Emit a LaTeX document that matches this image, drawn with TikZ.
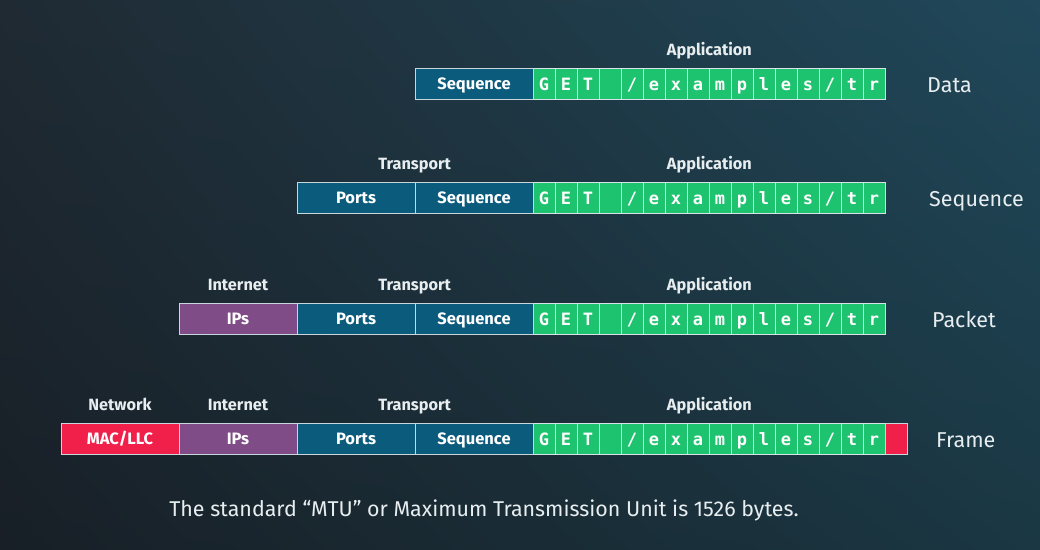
\documentclass[tikz,border=0pt]{standalone}
\usepackage{fontspec}
\setmainfont{Fira Sans}
\newfontfamily\bytefont{DejaVu Sans Mono}
\usepackage{xcolor}
\usepackage{tikz}
\usetikzlibrary{positioning, shadings}
\definecolor{bgtl}{HTML}{1F2A33}
\definecolor{bgtr}{HTML}{20485A}
\definecolor{bgbl}{HTML}{181F26}
\definecolor{bgbr}{HTML}{1A3743}
\definecolor{seqblue}{HTML}{0B5B7D}
\definecolor{appgreen}{HTML}{1DC36F}
\definecolor{ippurple}{HTML}{7F4C88}
\definecolor{macred}{HTML}{F0204B}
\definecolor{edgegray}{HTML}{C9D6DC}
\definecolor{lbltext}{HTML}{E8EEF0}
\tikzset{
  hdrbox/.style={draw=edgegray,line width=0.8pt,minimum width=118pt,minimum height=31pt,
    inner sep=0pt,text=white,text height=10.5pt,text depth=0pt,
    font=\bfseries\fontsize{16.5}{17}\selectfont},
  seqbox/.style={hdrbox,fill=seqblue},
  ipbox/.style={hdrbox,fill=ippurple},
  macbox/.style={hdrbox,fill=macred},
  endbox/.style={hdrbox,fill=macred,minimum width=22pt},
  bytecell/.style={draw=edgegray!70!white,line width=0.8pt,fill=appgreen,minimum width=22pt,
    minimum height=31pt,inner sep=0pt,text=white,text height=12pt,text depth=0pt,
    font=\bytefont\bfseries\fontsize{17}{17}\selectfont},
  layerlbl/.style={text=lbltext,inner sep=0pt,text depth=0pt,font=\bfseries\fontsize{16.3}{17}\selectfont},
  rowlbl/.style={anchor=base west,inner sep=0pt,text=lbltext,font=\fontsize{21.5}{22}\selectfont},
  notetext/.style={anchor=base,inner sep=0pt,text=lbltext,font=\fontsize{21.4}{23}\selectfont},
}

\begin{document}
\begin{tikzpicture}[x=1pt,y=-1pt]
  \shade[upper left=bgtl,upper right=bgtr,lower left=bgbl,lower right=bgbr] (0,0) rectangle (1040,549);
  \useasboundingbox (0,0) rectangle (1040,549);
  % application bytes, one strip per layer
  \foreach \row/\y in {d/84,s/198,p/319,f/439}{
    \foreach \ch [count=\i] in {G,E,T,{},{/},e,x,a,m,p,l,e,s,{/},t,r}
      \node[bytecell] (\row\i) at ({522+22*\i},\y) {\ch};
    \node[layerlbl,above=12.5pt of \row8.north east] (\row app) {Application};
  }
  % data
  \node[seqbox] (dseq) at (474,84) {Sequence};
  % segment
  \node[seqbox] (sports) at (356,198) {Ports};
  \node[seqbox] (sseq) at (474,198) {Sequence};
  \node[layerlbl,above=12.5pt of sseq.north west] (stra) {Transport};
  % packet
  \node[ipbox] (pips) at (238,319) {IPs};
  \node[seqbox] (pports) at (356,319) {Ports};
  \node[seqbox] (pseq) at (474,319) {Sequence};
  \node[layerlbl,above=12.5pt of pips.north] (pint) {Internet};
  \node[layerlbl,above=12.5pt of pseq.north west] (ptra) {Transport};
  % frame
  \node[macbox] (fmac) at (120,439) {MAC/LLC};
  \node[ipbox] (fips) at (238,439) {IPs};
  \node[seqbox] (fports) at (356,439) {Ports};
  \node[seqbox] (fseq) at (474,439) {Sequence};
  \node[endbox] (fend) at (896,439) {};
  \node[layerlbl,above=12.5pt of fmac.north] (fnet) {Network};
  \node[layerlbl,above=12.5pt of fips.north] (fint) {Internet};
  \node[layerlbl,above=12.5pt of fseq.north west] (ftra) {Transport};
  % unit names
  \node[rowlbl] (dname) at (927,92) {Data};
  \node[rowlbl] (sname) at (929,206) {Sequence};
  \node[rowlbl] (pname) at (932,327) {Packet};
  \node[rowlbl] (fname) at (936,447) {Frame};
  \node[notetext] (mtu) at (484,516) {The standard “MTU” or Maximum Transmission Unit is 1526 bytes.};
\end{tikzpicture}
\end{document}
